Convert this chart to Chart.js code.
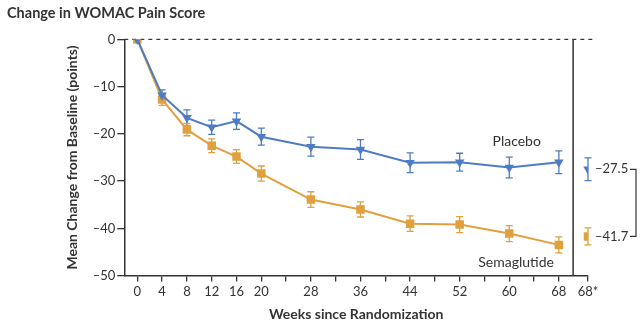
<!DOCTYPE html>
<html>
<head>
<meta charset="utf-8">
<script src="https://cdn.jsdelivr.net/npm/chart.js@4.4.0/dist/chart.umd.min.js"></script>
<style>
  html, body { margin: 0; padding: 0; background: #fff; }
  #wrap { width: 642px; height: 325px; }
</style>
</head>
<body>
<div id="wrap"><canvas id="womac"></canvas></div>
<script>
// weeks on the x axis, the last point (68*) sits off to the right
const weeks = [0, 4, 8, 12, 16, 20, 28, 36, 44, 52, 60, 68];
const tickWeeks = [0, 4, 8, 12, 16, 20, 24, 28, 32, 36, 40, 44, 48, 52, 56, 60, 64, 68];
const labeledWeeks = [0, 4, 8, 12, 16, 20, 28, 36, 44, 52, 60, 68];
const starWeek = 72.7;
const starLabel = '68*';

const placebo = [0, -11.8, -16.6, -18.6, -17.3, -20.6, -22.7, -23.3, -26.1, -26.0, -27.1, -26.0];
const placeboErr = [0, 1.1, 1.7, 1.5, 1.75, 1.8, 2.0, 2.1, 2.1, 1.9, 2.2, 2.4];
const sema = [0, -12.7, -19.1, -22.5, -24.8, -28.4, -33.9, -36.0, -39.0, -39.2, -41.1, -43.5];
const semaErr = [0, 1.25, 1.3, 1.45, 1.45, 1.6, 1.65, 1.6, 1.65, 1.7, 1.7, 1.7];

const placeboFinal = -27.5;
const placeboFinalErr = 2.4;
const semaFinal = -41.7;
const semaFinalErr = 1.8;

const blue = '#4e7cc3';
const orange = '#e0a03e';
const ink = '#333333';
const FONT = 'Lato';

function pts(xs, ys) { return xs.map((x, i) => ({x: x, y: ys[i]})); }

// error bars, zero line, right divider, end labels
const extras = {
  id: 'extras',
  beforeDatasetsDraw(chart) {
    const {ctx, chartArea, scales: {x, y}} = chart;
    ctx.save();
    // dashed zero line
    ctx.strokeStyle = ink;
    ctx.lineWidth = 1.2;
    ctx.setLineDash([4, 4]);
    ctx.beginPath();
    ctx.moveTo(chartArea.left, y.getPixelForValue(0));
    ctx.lineTo(x.getPixelForValue(starWeek) + 8, y.getPixelForValue(0));
    ctx.stroke();
    ctx.setLineDash([]);
    // divider before the 68* column
    ctx.lineWidth = 1.5;
    ctx.beginPath();
    ctx.moveTo(x.getPixelForValue(70.3), chartArea.top);
    ctx.lineTo(x.getPixelForValue(70.3), chartArea.bottom);
    ctx.stroke();

    function bars(xs, ys, es, color) {
      ctx.strokeStyle = color;
      ctx.lineWidth = 1.3;
      xs.forEach((w, i) => {
        if (!es[i]) return;
        const px = x.getPixelForValue(w);
        const t = y.getPixelForValue(ys[i] + es[i]);
        const b = y.getPixelForValue(ys[i] - es[i]);
        ctx.beginPath();
        ctx.moveTo(px, t); ctx.lineTo(px, b);
        ctx.moveTo(px - 3.5, t); ctx.lineTo(px + 3.5, t);
        ctx.moveTo(px - 3.5, b); ctx.lineTo(px + 3.5, b);
        ctx.stroke();
      });
    }
    bars(weeks, placebo, placeboErr, blue);
    bars(weeks, sema, semaErr, orange);
    bars([starWeek], [placeboFinal], [placeboFinalErr], blue);
    bars([starWeek], [semaFinal], [semaFinalErr], orange);
    ctx.restore();
  },
  afterDatasetsDraw(chart) {
    const {ctx, scales: {x, y}} = chart;
    ctx.save();
    ctx.fillStyle = ink;
    ctx.font = '14px ' + FONT;
    ctx.textBaseline = 'middle';
    ctx.textAlign = 'left';
    ctx.fillText('Placebo', x.getPixelForValue(57.3), y.getPixelForValue(-21.6));
    ctx.fillText('Semaglutide', x.getPixelForValue(55.0), y.getPixelForValue(-47.2));

    const sx = x.getPixelForValue(starWeek) + 7;
    const py = y.getPixelForValue(placeboFinal);
    const sy = y.getPixelForValue(semaFinal);
    ctx.font = '13px ' + FONT;
    ctx.fillText('\u201327.5', sx, py);
    ctx.fillText('\u201341.7', sx, sy);
    ctx.strokeStyle = ink;
    ctx.lineWidth = 1.2;
    ctx.beginPath();
    ctx.moveTo(sx + 35, py); ctx.lineTo(sx + 41, py);
    ctx.lineTo(sx + 41, sy); ctx.lineTo(sx + 35, sy);
    ctx.stroke();
    ctx.restore();
  }
};

const ctx = document.getElementById('womac').getContext('2d');
const chart = new Chart(ctx, {
  type: 'line',
  data: {
    datasets: [
      {
        data: pts(weeks, placebo),
        borderColor: blue, backgroundColor: blue, borderWidth: 2,
        pointStyle: 'triangle', rotation: 180, pointRadius: 5.5,
        pointBorderWidth: 0
      },
      {
        data: pts(weeks, sema),
        borderColor: orange, backgroundColor: orange, borderWidth: 2,
        pointStyle: 'rect', pointRadius: 6, pointBorderWidth: 0
      },
      {
        data: [{x: starWeek, y: placeboFinal}], showLine: false,
        borderColor: blue, backgroundColor: blue,
        pointStyle: 'triangle', rotation: 180, pointRadius: 5.5, pointBorderWidth: 0
      },
      {
        data: [{x: starWeek, y: semaFinal}], showLine: false,
        borderColor: orange, backgroundColor: orange,
        pointStyle: 'rect', pointRadius: 6, pointBorderWidth: 0
      }
    ]
  },
  options: {
    responsive: true,
    maintainAspectRatio: false,
    animation: false,
    layout: { padding: { left: 7, right: 54, top: 2, bottom: 2 } },
    plugins: {
      legend: { display: false },
      tooltip: { enabled: false },
      title: {
        display: true,
        text: 'Change in WOMAC Pain Score',
        align: 'start',
        color: ink,
        font: { family: FONT, size: 14.5, weight: 'bold' },
        padding: { top: 3, bottom: 17 }
      }
    },
    scales: {
      x: {
        type: 'linear',
        min: -2.1,
        max: starWeek,
        afterBuildTicks: function (scale) {
          scale.ticks = tickWeeks.concat([starWeek]).map(v => ({value: v}));
        },
        ticks: {
          autoSkip: false,
          maxRotation: 0,
          color: ink,
          padding: 2,
          font: { family: FONT, size: 13 },
          callback: function (v) {
            if (v === starWeek) return starLabel;
            return labeledWeeks.includes(v) ? String(v) : '';
          }
        },
        grid: { drawOnChartArea: false, drawTicks: true, tickLength: 6, color: ink, lineWidth: 1.3 },
        border: { color: ink, width: 1.5 },
        title: {
          display: true,
          text: 'Weeks since Randomization',
          color: ink,
          font: { family: FONT, size: 14, weight: 'bold' },
          padding: { top: 5, bottom: 0 }
        }
      },
      y: {
        min: -50,
        max: 0,
        afterFit: function (scale) { scale.width = 117.3; },
        ticks: {
          stepSize: 10,
          color: ink,
          padding: 2,
          font: { family: FONT, size: 13 },
          callback: function (v) { return v < 0 ? '\u2013' + Math.abs(v) : String(v); }
        },
        grid: { drawOnChartArea: false, drawTicks: true, tickLength: 7, color: ink, lineWidth: 1.3 },
        border: { color: ink, width: 1.5 },
        title: {
          display: true,
          text: 'Mean Change from Baseline (points)',
          color: ink,
          font: { family: FONT, size: 14, weight: 'bold' },
          padding: { top: 57, bottom: 0 }
        }
      }
    }
  },
  plugins: [extras]
});
</script>
</body>
</html>
